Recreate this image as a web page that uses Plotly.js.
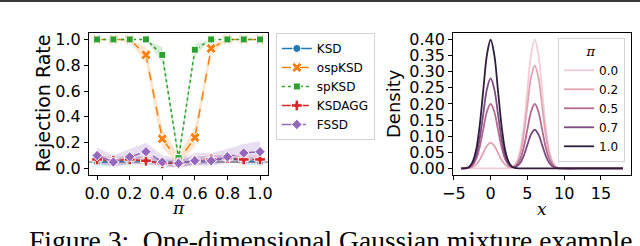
<!DOCTYPE html>
<html>
<head>
<meta charset="utf-8">
<script src="https://cdn.plot.ly/plotly-3.0.1.min.js"></script>
<style>html,body{margin:0;padding:0;background:#fff;}#chart{width:640px;height:246px;}</style>
</head>
<body>
<div id="chart"></div>
<script>
// ---------- Left panel: rejection rate vs pi ----------
const piVals = [0.0, 0.1, 0.2, 0.3, 0.4, 0.5, 0.6, 0.7, 0.8, 0.9, 1.0];
const ksd      = [0.05, 0.05, 0.06, 0.06, 0.04, 0.04, 0.06, 0.06, 0.08, 0.06, 0.05];
const ksdLo    = [0.02, 0.02, 0.03, 0.03, 0.02, 0.01, 0.03, 0.03, 0.05, 0.03, 0.02];
const ksdHi    = [0.08, 0.08, 0.09, 0.09, 0.07, 0.07, 0.09, 0.09, 0.11, 0.09, 0.08];
const ospksd   = [1.00, 1.00, 1.00, 0.88, 0.23, 0.06, 0.24, 0.93, 1.00, 1.00, 1.00];
const ospLo    = [1.00, 1.00, 0.98, 0.82, 0.16, 0.03, 0.17, 0.88, 1.00, 1.00, 1.00];
const ospHi    = [1.00, 1.00, 1.00, 0.94, 0.31, 0.10, 0.32, 0.97, 1.00, 1.00, 1.00];
const spksd    = [1.00, 1.00, 1.00, 1.00, 0.88, 0.08, 0.92, 1.00, 1.00, 1.00, 1.00];
const spLo     = [1.00, 1.00, 1.00, 1.00, 0.82, 0.04, 0.87, 1.00, 1.00, 1.00, 1.00];
const spHi     = [1.00, 1.00, 1.00, 1.00, 0.94, 0.12, 0.96, 1.00, 1.00, 1.00, 1.00];
const ksdagg   = [0.07, 0.06, 0.07, 0.06, 0.04, 0.04, 0.06, 0.07, 0.08, 0.07, 0.07];
const aggLo    = [0.04, 0.03, 0.04, 0.03, 0.02, 0.01, 0.03, 0.04, 0.05, 0.04, 0.04];
const aggHi    = [0.10, 0.09, 0.10, 0.09, 0.07, 0.07, 0.09, 0.10, 0.11, 0.10, 0.10];
const fssd     = [0.10, 0.05, 0.09, 0.13, 0.05, 0.04, 0.06, 0.06, 0.09, 0.12, 0.13];
const fssdLo   = [0.04, 0.01, 0.03, 0.06, 0.01, 0.01, 0.02, 0.02, 0.04, 0.06, 0.06];
const fssdHi   = [0.16, 0.10, 0.15, 0.20, 0.10, 0.08, 0.12, 0.12, 0.15, 0.19, 0.21];
const alphaLevel = 0.05;
const methodNames = ["KSD", "ospKSD", "spKSD", "KSDAGG", "FSSD"];
const leftTicks = [0.0, 0.2, 0.4, 0.6, 0.8, 1.0];

// ---------- Right panel: mixture densities ----------
const xGrid = [-4, -3, -2.5, -2, -1.5, -1, -0.5, 0, 0.5, 1, 1.5, 2, 2.5, 3, 3.5, 4, 4.5, 5, 5.5, 6, 6.5, 7, 7.5, 8, 8.5, 9, 10, 12, 15, 18];
const dens00 = [0,0,0,0,0,0,0,0,0,0,0,0,0.001,0.004,0.018,0.054,0.130,0.242,0.352,0.399,0.352,0.242,0.130,0.054,0.018,0.004,0,0,0,0];
const dens02 = [0,0.001,0.004,0.011,0.026,0.048,0.070,0.080,0.070,0.048,0.026,0.011,0.004,0.004,0.015,0.043,0.104,0.194,0.282,0.319,0.282,0.194,0.104,0.043,0.014,0.003,0,0,0,0];
const dens05 = [0,0.002,0.009,0.027,0.065,0.121,0.176,0.200,0.176,0.121,0.065,0.027,0.0095,0.004,0.0095,0.027,0.065,0.121,0.176,0.200,0.176,0.121,0.065,0.027,0.009,0.002,0,0,0,0];
const dens07 = [0,0.003,0.013,0.038,0.091,0.169,0.246,0.279,0.246,0.169,0.091,0.038,0.013,0.004,0.006,0.016,0.039,0.073,0.106,0.120,0.106,0.073,0.039,0.016,0.005,0.001,0,0,0,0];
const dens10 = [0,0.004,0.018,0.054,0.130,0.242,0.352,0.399,0.352,0.242,0.130,0.054,0.018,0.004,0.001,0,0,0,0,0,0,0,0,0,0,0,0,0,0,0];
const piLabels = ["0.0", "0.2", "0.5", "0.7", "1.0"];
const densTicks = [0.00, 0.05, 0.10, 0.15, 0.20, 0.25, 0.30, 0.35, 0.40];
const xTicks = [-5, 0, 5, 10, 15];

const caption = "Figure 3:  One-dimensional Gaussian mixture example";

// ---------- styles ----------
const methodColors = ["#1f77b4", "#ff7f0e", "#2ca02c", "#d62728", "#9467bd"];
const bandColors = ["rgba(31,119,180,0.18)", "rgba(255,127,14,0.2)", "rgba(44,160,44,0.2)", "rgba(214,39,40,0.15)", "rgba(148,103,189,0.22)"];
const methodDash = ["solid", "dash", "dot", "dashdot", "longdashdot"];
const methodSymbols = ["circle", "x", "square", "cross", "diamond"];
const methodSizes = [8, 9, 7, 9, 8];
const densColors = ["#f2cdd5", "#e2a3b3", "#b26893", "#7c4a80", "#2e1e3c"];

const series = [ksd, ospksd, spksd, ksdagg, fssd];
const lows = [ksdLo, ospLo, spLo, aggLo, fssdLo];
const highs = [ksdHi, ospHi, spHi, aggHi, fssdHi];

const traces = [];
// bands
for (let i = 0; i < series.length; i++) {
  traces.push({x: piVals, y: highs[i], type: "scatter", mode: "lines", line: {width: 0, color: bandColors[i]},
    showlegend: false, hoverinfo: "skip", xaxis: "x", yaxis: "y"});
  traces.push({x: piVals, y: lows[i], type: "scatter", mode: "lines", line: {width: 0, color: bandColors[i]},
    fill: "tonexty", fillcolor: bandColors[i], showlegend: false, hoverinfo: "skip", xaxis: "x", yaxis: "y"});
}
// lines
for (let i = 0; i < series.length; i++) {
  traces.push({x: piVals, y: series[i], type: "scatter", mode: "lines+markers", name: methodNames[i],
    line: {color: methodColors[i], width: 1.5, dash: methodDash[i]},
    marker: {symbol: methodSymbols[i], size: methodSizes[i], color: methodColors[i], line: {color: "#ffffff", width: 1}},
    xaxis: "x", yaxis: "y", legend: "legend"});
}
// densities
const densSeries = [dens00, dens02, dens05, dens07, dens10];
for (let i = 0; i < densSeries.length; i++) {
  traces.push({x: xGrid, y: densSeries[i], type: "scatter", mode: "lines", name: piLabels[i],
    line: {color: densColors[i], width: 1.8, shape: "spline", smoothing: 1.0},
    xaxis: "x2", yaxis: "y2", legend: "legend2"});
}

const tickFont = {family: "DejaVu Sans", size: 16, color: "#000"};
const axisCommon = {showline: true, mirror: true, linecolor: "#000", linewidth: 1, ticks: "outside", ticklen: 4,
  tickcolor: "#000", tickwidth: 1, showgrid: false, zeroline: false, tickfont: tickFont, automargin: false};

const layout = {
  width: 640, height: 246,
  margin: {l: 0, r: 0, t: 0, b: 0},
  paper_bgcolor: "#fff", plot_bgcolor: "#fff",
  font: {family: "DejaVu Sans", color: "#000"},
  xaxis: Object.assign({}, axisCommon, {domain: [0.139, 0.419], range: [-0.05, 1.05], tickvals: leftTicks, tickformat: ".1f", anchor: "y"}),
  yaxis: Object.assign({}, axisCommon, {domain: [0.289, 0.866], range: [-0.05, 1.05], tickvals: leftTicks, tickformat: ".1f", anchor: "x"}),
  xaxis2: Object.assign({}, axisCommon, {domain: [0.708, 0.986], range: [-5.1, 19.1], tickvals: xTicks, anchor: "y2"}),
  yaxis2: Object.assign({}, axisCommon, {domain: [0.289, 0.866], range: [-0.02, 0.42], tickvals: densTicks, tickformat: ".2f", anchor: "x2"}),
  legend: {x: 0.431, y: 0.866, xanchor: "left", yanchor: "top", traceorder: "normal", bgcolor: "rgba(255,255,255,0.8)", bordercolor: "#d4d4d4", borderwidth: 1,
    font: {family: "DejaVu Sans", size: 12, color: "#000"}},
  legend2: {x: 0.872, y: 0.846, xanchor: "left", yanchor: "top", traceorder: "normal", bgcolor: "rgba(255,255,255,0.8)", bordercolor: "#d4d4d4", borderwidth: 1,
    font: {family: "DejaVu Sans", size: 12, color: "#000"},
    title: {text: "<i>π</i>", side: "top center", font: {family: "DejaVu Serif", size: 13, color: "#000"}}},
  shapes: [
    {type: "line", xref: "x domain", yref: "y", x0: 0, x1: 1, y0: alphaLevel, y1: alphaLevel, line: {color: "#8c8c8c", width: 1.5}, layer: "below"},
    {type: "line", xref: "paper", yref: "paper", x0: 0, x1: 1, y0: 0.996, y1: 0.996, line: {color: "#3a3a3a", width: 2}}
  ],
  annotations: [
    {text: "Rejection Rate", xref: "paper", yref: "paper", x: 43/640, y: 1 - 104/246, textangle: -90, showarrow: false,
      font: {family: "DejaVu Sans", size: 19, color: "#000"}, xanchor: "center", yanchor: "middle"},
    {text: "Density", xref: "paper", yref: "paper", x: 393/640, y: 1 - 104/246, textangle: -90, showarrow: false,
      font: {family: "DejaVu Sans", size: 18, color: "#000"}, xanchor: "center", yanchor: "middle"},
    {text: "<i>π</i>", xref: "paper", yref: "paper", x: 178/640, y: 1 - 208/246, showarrow: false,
      font: {family: "DejaVu Serif", size: 17, color: "#000"}, xanchor: "center", yanchor: "middle"},
    {text: "<i>x</i>", xref: "paper", yref: "paper", x: 542/640, y: 1 - 209/246, showarrow: false,
      font: {family: "DejaVu Serif", size: 17, color: "#000"}, xanchor: "center", yanchor: "middle"},
    {text: caption, xref: "paper", yref: "paper", x: 27/640, y: 1 - 240/246, showarrow: false,
      font: {family: "Liberation Serif", size: 27.5, color: "#000"}, xanchor: "left", yanchor: "middle"}
  ]
};

Plotly.newPlot("chart", traces, layout, {staticPlot: true, displayModeBar: false});
</script>
</body>
</html>
